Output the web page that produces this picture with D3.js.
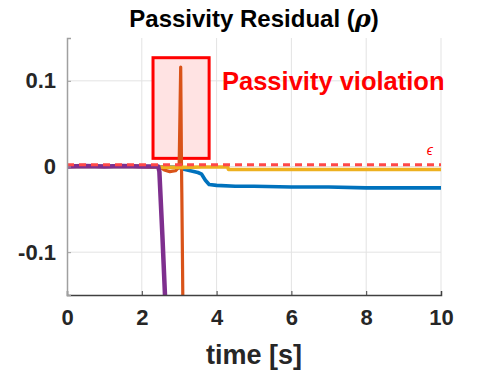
<!DOCTYPE html>
<html lang="en">
<head>
    <meta charset="UTF-8">
    <title>Passivity Residual</title>
    <script src="https://d3js.org/d3.v7.min.js"></script>
    <style>
        body{ margin:0; background:#fff; }
        svg text{ font-family:"Liberation Sans", Arial, sans-serif; font-weight:bold; }
        .axis text{ font-size:22px; fill:#262626; }
    </style>
</head>
<body>
<script>
    var w = 488, h = 375;
    var margin = {left:67, right:47, top:38, bottom:80};

    // data
    var xTicks = [0, 2, 4, 6, 8, 10];
    var yTicks = [-0.1, 0, 0.1];
    var yTickLabels = ["-0.1", "0", "0.1"];
    var epsilon = 0.002;
    var boxT = [2.3, 3.8];
    var boxV = [0.0095, 0.127];

    var blueT = [0, 1, 2, 3, 3.1, 3.3, 3.5, 3.6, 3.7, 3.8, 4.0, 4.5, 5, 6, 7, 8, 9, 10];
    var blueV = [0, 0, 0, -0.001, -0.003, -0.005, -0.007, -0.009, -0.016, -0.021, -0.022, -0.023, -0.023, -0.024, -0.024, -0.025, -0.025, -0.025];
    var orangeT = [0, 1, 2, 2.5, 2.6, 2.75, 2.9, 2.97, 3.0, 3.04, 3.06, 3.07, 3.09, 3.1];
    var orangeV = [0, 0, 0, -0.001, -0.004, -0.006, -0.005, -0.002, 0.004, 0.116, 0.006, -0.03, -0.12, -0.17];
    var yellowT = [0, 1, 2, 2.8, 3.2, 3.6, 4.0, 4.25, 4.28, 4.32, 5, 6, 7, 8, 9, 10];
    var yellowV = [0, 0, 0, -0.001, -0.001, -0.0005, -0.0005, -0.0005, 0.001, -0.0035, -0.0035, -0.0035, -0.0035, -0.0035, -0.0035, -0.0035];
    var purpleT = [0, 0.5, 1, 1.5, 2, 2.44, 2.47, 2.55, 2.64];
    var purpleV = [0, 0.0005, 0, 0.0005, 0, 0, -0.006, -0.08, -0.17];

    var series = [
        {t:blueT, v:blueV, color:"#0072BD", sw:3.6},
        {t:orangeT, v:orangeV, color:"#D95319", sw:3.2},
        {t:yellowT, v:yellowV, color:"#EDB120", sw:3.6},
        {t:purpleT, v:purpleV, color:"#7E2F8E", sw:4.5}
    ];

    var svg = d3.select("body").append("svg").attr("width", w).attr("height", h);

    var xScale = d3.scaleLinear().domain([0, 10]).range([margin.left, w - margin.right]);
    var yScale = d3.scaleLinear().domain([-0.15, 0.15]).range([h - margin.bottom, margin.top]);

    svg.append("defs").append("clipPath").attr("id", "clip")
        .append("rect")
        .attr("x", margin.left).attr("y", margin.top)
        .attr("width", w - margin.left - margin.right)
        .attr("height", h - margin.top - margin.bottom);

    // grid
    svg.append("g").selectAll("line").data(xTicks.slice(1)).enter().append("line")
        .attr("x1", d => xScale(d)).attr("x2", d => xScale(d))
        .attr("y1", margin.top).attr("y2", h - margin.bottom)
        .attr("stroke", "#e3e3e3").attr("stroke-width", 1);
    svg.append("g").selectAll("line").data(yTicks).enter().append("line")
        .attr("x1", margin.left).attr("x2", w - margin.right)
        .attr("y1", d => yScale(d)).attr("y2", d => yScale(d))
        .attr("stroke", "#e3e3e3").attr("stroke-width", 1);

    // violation box
    svg.append("rect")
        .attr("x", xScale(boxT[0])).attr("y", yScale(boxV[1]))
        .attr("width", xScale(boxT[1]) - xScale(boxT[0]))
        .attr("height", yScale(boxV[0]) - yScale(boxV[1]))
        .attr("fill", "#ffe3e3").attr("stroke", "#ff0000").attr("stroke-width", 3);

    var line = d3.line().x(d => xScale(d[0])).y(d => yScale(d[1]));
    var plot = svg.append("g").attr("clip-path", "url(#clip)");
    series.forEach(function(s){
        plot.append("path")
            .datum(s.t.map((t, i) => [t, s.v[i]]))
            .attr("d", line)
            .attr("fill", "none")
            .attr("stroke", s.color)
            .attr("stroke-width", s.sw)
            .attr("stroke-linejoin", "round");
    });

    // epsilon threshold
    plot.append("line")
        .attr("x1", xScale(0)).attr("x2", xScale(10))
        .attr("y1", yScale(epsilon)).attr("y2", yScale(epsilon))
        .attr("stroke", "#ff4848").attr("stroke-width", 3)
        .attr("stroke-dasharray", "7,5");
    svg.append("text")
        .attr("x", xScale(9.7)).attr("y", yScale(0.013))
        .attr("text-anchor", "middle")
        .attr("fill", "#ff0000").style("font-weight", "normal").style("font-style", "italic")
        .style("font-size", "14px")
        .text("\u03F5");

    svg.append("text")
        .attr("x", 222).attr("y", 90)
        .attr("fill", "#ff0000").style("font-size", "25.5px")
        .text("Passivity violation");

    // axes
    var xAxis = d3.axisBottom(xScale).tickValues(xTicks).tickSize(-4).tickPadding(10).tickFormat(d3.format("d"));
    var yAxis = d3.axisLeft(yScale).tickValues(yTicks).tickSize(-4).tickPadding(11)
        .tickFormat((d, i) => yTickLabels[i]);

    var gx = svg.append("g").classed("axis", true)
        .attr("transform", `translate(0, ${h - margin.bottom})`).call(xAxis);
    gx.select(".domain").attr("stroke", "#404040").attr("stroke-width", 1.5);
    gx.selectAll(".tick line").attr("stroke", "#404040");
    gx.selectAll("text").attr("dy", "0.9em");

    var gy = svg.append("g").classed("axis", true)
        .attr("transform", `translate(${margin.left}, 0)`).call(yAxis);
    gy.select(".domain").attr("stroke", "#a0a0a0").attr("stroke-width", 1.5);
    gy.selectAll(".tick line").attr("stroke", "#a0a0a0");

    // title and label
    var title = svg.append("text").attr("x", 254).attr("y", 27)
        .attr("text-anchor", "middle").attr("fill", "#000").style("font-size", "24px");
    title.append("tspan").text("Passivity Residual (");
    title.append("tspan").style("font-style", "italic").style("font-family", "DejaVu Serif").text("\u03C1");
    title.append("tspan").text(")");

    svg.append("text").attr("x", 254).attr("y", 364)
        .attr("text-anchor", "middle").attr("fill", "#262626").style("font-size", "27px")
        .text("time [s]");
</script>
</body>
</html>
